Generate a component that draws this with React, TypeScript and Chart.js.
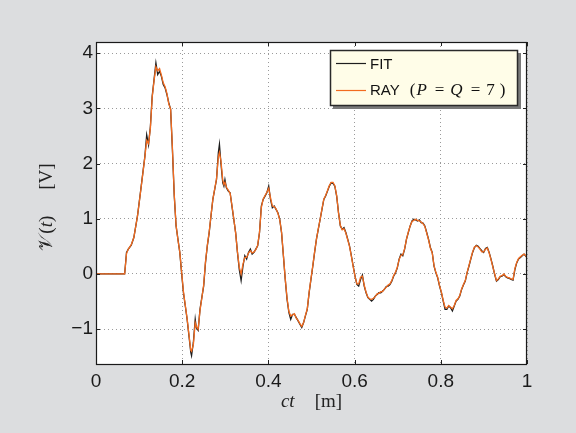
import React, { useEffect, useRef } from 'react';
import { Chart, registerables } from 'chart.js';

Chart.register(...registerables);

// Propagation distance ct [m]
const CT = [
  0, 0.0665, 0.0708, 0.075, 0.0818, 0.0878, 0.0963, 0.1049, 0.1134, 0.1176,
  0.1219, 0.1262, 0.1304, 0.1347, 0.139, 0.1432, 0.1475, 0.1517, 0.156, 0.1603,
  0.1645, 0.1688, 0.1731, 0.1773, 0.1816, 0.1858, 0.1901, 0.1944, 0.1986, 0.2029,
  0.2072, 0.2114, 0.2157, 0.2199, 0.2217, 0.2259, 0.2302, 0.2327, 0.237, 0.2413,
  0.2455, 0.2498, 0.254, 0.2583, 0.2626, 0.2668, 0.2711, 0.2754, 0.2796, 0.2839,
  0.2864, 0.2899, 0.2941, 0.2967, 0.2992, 0.3026, 0.3069, 0.3112, 0.3154, 0.3197,
  0.324, 0.3282, 0.3325, 0.3367, 0.341, 0.3453, 0.3495, 0.3538, 0.3581, 0.3623,
  0.3666, 0.3708, 0.3751, 0.3794, 0.3836, 0.3879, 0.3922, 0.3964, 0.4007, 0.4049,
  0.4092, 0.4135, 0.4177, 0.422, 0.4263, 0.4305, 0.4348, 0.439, 0.4433, 0.4476,
  0.4518, 0.4561, 0.4604, 0.4646, 0.4689, 0.4731, 0.4774, 0.4817, 0.4859, 0.4902,
  0.4945, 0.4987, 0.503, 0.5072, 0.5115, 0.5158, 0.52, 0.5243, 0.5286, 0.5328,
  0.5371, 0.5413, 0.5456, 0.5499, 0.5541, 0.5584, 0.5627, 0.5669, 0.5712, 0.5754,
  0.5797, 0.584, 0.5882, 0.5925, 0.5968, 0.601, 0.6053, 0.6095, 0.6138, 0.6181,
  0.6223, 0.6266, 0.6309, 0.6351, 0.6394, 0.6436, 0.6479, 0.6522, 0.6564, 0.6607,
  0.665, 0.6692, 0.6735, 0.6777, 0.682, 0.6863, 0.6905, 0.6948, 0.6991, 0.7033,
  0.7076, 0.7118, 0.7161, 0.7204, 0.7246, 0.7289, 0.7332, 0.7374, 0.7417, 0.746,
  0.7502, 0.7545, 0.7587, 0.763, 0.7673, 0.7715, 0.7758, 0.7801, 0.7843, 0.7886,
  0.7928, 0.7971, 0.8014, 0.8056, 0.8099, 0.8141, 0.8184, 0.8227, 0.8269, 0.8312,
  0.8355, 0.8397, 0.844, 0.8483, 0.8525, 0.8568, 0.861, 0.8653, 0.8696, 0.8738,
  0.8781, 0.8824, 0.8866, 0.8909, 0.8951, 0.8994, 0.9037, 0.9079, 0.9122, 0.9165,
  0.9207, 0.925, 0.9292, 0.9335, 0.9378, 0.942, 0.9463, 0.9506, 0.9548, 0.9591,
  0.9633, 0.9676, 0.9719, 0.9761, 0.9804, 0.9847, 0.9889, 0.9932, 0.9974, 1.0,
];

// Fitted voltage V(t) [V]
const FIT = [
  0, 0, 0.39, 0.45, 0.52, 0.66, 1.05, 1.59, 2.13, 2.52,
  2.34, 2.67, 3.22, 3.52, 3.82, 3.61, 3.67, 3.58, 3.43, 3.37,
  3.25, 3.1, 2.98, 2.25, 1.41, 0.87, 0.63, 0.39, 0.02, -0.34,
  -0.58, -0.82, -1.12, -1.42, -1.48, -1.24, -0.82, -0.97, -1.02, -0.64,
  -0.43, -0.22, 0.2, 0.51, 0.75, 1.05, 1.35, 1.53, 1.71, 2.2,
  2.35, 2.0, 1.65, 1.59, 1.71, 1.56, 1.5, 1.47, 1.23, 0.99,
  0.75, 0.39, 0.08, -0.12, 0.14, 0.33, 0.27, 0.39, 0.45, 0.36,
  0.39, 0.45, 0.51, 0.75, 1.23, 1.35, 1.41, 1.47, 1.59, 1.35,
  1.2, 1.23, 1.17, 1.11, 0.99, 0.75, 0.33, -0.09, -0.46, -0.7,
  -0.82, -0.73, -0.73, -0.79, -0.85, -0.91, -0.97, -0.88, -0.76, -0.64,
  -0.34, -0.1, 0.14, 0.39, 0.63, 0.81, 0.99, 1.17, 1.35, 1.41,
  1.5, 1.59, 1.65, 1.64, 1.59, 1.41, 1.11, 0.87, 0.81, 0.84,
  0.75, 0.63, 0.51, 0.33, 0.14, -0.04, -0.19, -0.22, -0.1, -0.02,
  -0.22, -0.34, -0.43, -0.46, -0.49, -0.46, -0.4, -0.37, -0.34, -0.34,
  -0.31, -0.28, -0.23, -0.22, -0.19, -0.13, -0.04, 0.02, 0.11, 0.27,
  0.36, 0.33, 0.45, 0.63, 0.75, 0.87, 0.96, 0.99, 0.98, 0.96,
  0.98, 0.93, 0.92, 0.87, 0.75, 0.63, 0.48, 0.39, 0.14, 0.02,
  -0.07, -0.22, -0.34, -0.49, -0.64, -0.64, -0.58, -0.61, -0.67, -0.58,
  -0.49, -0.46, -0.4, -0.28, -0.2, -0.13, 0.02, 0.14, 0.27, 0.39,
  0.48, 0.52, 0.5, 0.46, 0.42, 0.39, 0.46, 0.48, 0.39, 0.27,
  0.14, -0.01, -0.13, -0.1, -0.05, -0.04, -0.01, -0.05, -0.07, -0.08,
  -0.1, -0.11, 0.08, 0.2, 0.27, 0.3, 0.33, 0.36, 0.32, 0.3,
];

// Ray-model voltage, P = Q = 7
const RAY = [
  0, 0, 0.37, 0.45, 0.53, 0.66, 1.05, 1.58, 2.12, 2.42,
  2.36, 2.64, 3.2, 3.5, 3.75, 3.68, 3.72, 3.6, 3.46, 3.39,
  3.27, 3.08, 2.99, 2.28, 1.43, 0.88, 0.62, 0.4, 0.04, -0.32,
  -0.57, -0.81, -1.1, -1.38, -1.4, -1.28, -0.88, -0.95, -1.0, -0.66,
  -0.44, -0.2, 0.22, 0.52, 0.76, 1.06, 1.35, 1.54, 1.72, 2.12,
  2.2, 2.05, 1.7, 1.62, 1.66, 1.57, 1.52, 1.46, 1.24, 1.0,
  0.74, 0.4, 0.12, 0.0, 0.18, 0.3, 0.3, 0.38, 0.42, 0.38,
  0.4, 0.44, 0.52, 0.76, 1.2, 1.36, 1.42, 1.48, 1.55, 1.38,
  1.23, 1.22, 1.18, 1.1, 0.98, 0.76, 0.34, -0.08, -0.44, -0.68,
  -0.76, -0.74, -0.72, -0.8, -0.84, -0.9, -0.95, -0.88, -0.75, -0.63,
  -0.33, -0.09, 0.15, 0.4, 0.63, 0.82, 0.99, 1.18, 1.36, 1.42,
  1.51, 1.6, 1.66, 1.66, 1.6, 1.42, 1.1, 0.88, 0.8, 0.82,
  0.74, 0.62, 0.5, 0.32, 0.13, -0.05, -0.18, -0.18, -0.06, -0.04,
  -0.2, -0.33, -0.42, -0.45, -0.46, -0.44, -0.41, -0.36, -0.35, -0.32,
  -0.32, -0.27, -0.24, -0.2, -0.18, -0.12, -0.03, 0.03, 0.12, 0.26,
  0.34, 0.35, 0.46, 0.63, 0.76, 0.87, 0.95, 0.97, 0.99, 0.97,
  0.96, 0.94, 0.91, 0.86, 0.74, 0.62, 0.47, 0.38, 0.15, 0.03,
  -0.06, -0.21, -0.33, -0.48, -0.6, -0.62, -0.57, -0.6, -0.63, -0.57,
  -0.48, -0.45, -0.39, -0.27, -0.19, -0.12, 0.03, 0.15, 0.28, 0.4,
  0.49, 0.51, 0.49, 0.45, 0.4, 0.4, 0.45, 0.47, 0.38, 0.26,
  0.13, 0.0, -0.12, -0.09, -0.04, -0.03, 0.0, -0.04, -0.06, -0.07,
  -0.09, -0.1, 0.1, 0.21, 0.28, 0.31, 0.34, 0.36, 0.33, 0.29,
];

const X_TICKS = [0, 0.2, 0.4, 0.6, 0.8, 1];
const Y_TICKS = [-1, 0, 1, 2, 3, 4];
const X_RANGE = [0, 1];
const Y_RANGE = [-1.63, 4.2];

const FIT_COLOR = '#1e1e1e';
const RAY_COLOR = '#f26b1f';
const SANS = '"Liberation Sans", Arial, sans-serif';
const SERIF = '"Liberation Serif", "DejaVu Serif", serif';

// a run of text in one font, with an optional gap (px) before it
type Seg = { t: string; f: string; g?: number };

function segWidth(ctx: CanvasRenderingContext2D, segs: Seg[]) {
  let w = 0;
  for (const s of segs) {
    ctx.font = s.f;
    w += (s.g || 0) + ctx.measureText(s.t).width;
  }
  return w;
}

function drawSegs(ctx: CanvasRenderingContext2D, segs: Seg[], x: number, y: number, center: boolean) {
  let cx = center ? x - segWidth(ctx, segs) / 2 : x;
  ctx.textAlign = 'left';
  ctx.textBaseline = 'alphabetic';
  for (const s of segs) {
    ctx.font = s.f;
    cx += s.g || 0;
    ctx.fillText(s.t, cx, y);
    cx += ctx.measureText(s.t).width;
  }
}

const framePlugin = {
  id: 'matlabFrame',
  beforeDraw(chart: any) {
    const { ctx, chartArea: a } = chart;
    ctx.save();
    ctx.fillStyle = '#ffffff';
    ctx.fillRect(a.left, a.top, a.right - a.left, a.bottom - a.top);
    ctx.restore();
  },
  afterDraw(chart: any) {
    const { ctx, chartArea: a, scales } = chart;
    const xs = scales.x;
    const ys = scales.y;
    ctx.save();

    // inward tick marks on all four sides
    ctx.strokeStyle = '#222';
    ctx.lineWidth = 1;
    ctx.beginPath();
    for (const v of X_TICKS) {
      const px = Math.round(xs.getPixelForValue(v)) + 0.5;
      ctx.moveTo(px, a.bottom);
      ctx.lineTo(px, a.bottom - 4);
      ctx.moveTo(px, a.top);
      ctx.lineTo(px, a.top + 4);
    }
    for (const v of Y_TICKS) {
      const py = Math.round(ys.getPixelForValue(v)) + 0.5;
      ctx.moveTo(a.left, py);
      ctx.lineTo(a.left + 4, py);
      ctx.moveTo(a.right, py);
      ctx.lineTo(a.right - 4, py);
    }
    ctx.stroke();

    // axes box
    ctx.strokeStyle = '#1a1a1a';
    ctx.lineWidth = 1.2;
    ctx.strokeRect(Math.round(a.left) + 0.5, Math.round(a.top) + 0.5,
      Math.round(a.right - a.left) - 1, Math.round(a.bottom - a.top));

    // legend
    const lx = 330, ly = 50, lw = 188, lh = 56;
    ctx.fillStyle = '#7a7a7a';
    ctx.fillRect(lx + 3, ly + 3, lw, lh);
    ctx.fillStyle = '#fffde8';
    ctx.fillRect(lx, ly, lw, lh);
    ctx.strokeStyle = '#2a2a2a';
    ctx.lineWidth = 1.5;
    ctx.strokeRect(lx + 0.5, ly + 0.5, lw - 1, lh - 1);

    const ds = chart.data.datasets;
    const rows = [63.5, 90.5];
    ds.forEach((d: any, i: number) => {
      ctx.strokeStyle = d.borderColor;
      ctx.lineWidth = 1.2;
      ctx.beginPath();
      ctx.moveTo(336, rows[i]);
      ctx.lineTo(366, rows[i]);
      ctx.stroke();
    });
    ctx.fillStyle = '#111';
    const mf = `17px ${SERIF}`;
    const mi = `italic 17px ${SERIF}`;
    drawSegs(ctx, [{ t: ds[0].label, f: `15px ${SANS}` }], 370, 69, false);
    drawSegs(ctx, [
      { t: ds[1].label, f: `15px ${SANS}` },
      { t: '(', f: mf, g: 10 },
      { t: 'P', f: mi, g: 1 },
      { t: '=', f: mf, g: 8 },
      { t: 'Q', f: mi, g: 6 },
      { t: '=', f: mf, g: 8 },
      { t: '7', f: mf, g: 6 },
      { t: ')', f: mf, g: 5 },
    ], 370, 95, false);

    // axis titles
    ctx.fillStyle = '#222';
    const midX = (a.left + a.right) / 2;
    drawSegs(ctx, [
      { t: 'ct', f: `italic 19px ${SERIF}` },
      { t: '[m]', f: `19px ${SERIF}`, g: 20 },
    ], midX, 407, true);

    ctx.translate(52, 207);
    ctx.rotate(-Math.PI / 2);
    drawSegs(ctx, [
      { t: '𝒱', f: `19px ${SERIF}` },
      { t: '(', f: `19px ${SERIF}`, g: 1 },
      { t: 't', f: `italic 19px ${SERIF}` },
      { t: ')', f: `19px ${SERIF}` },
      { t: '[V]', f: `19px ${SERIF}`, g: 26 },
    ], 0, 0, true);
    ctx.restore();
  },
};

const fmt = (v: number) => {
  const s = String(Math.round(v * 10) / 10);
  return s.replace('-', '\u2212');
};

export default function App() {
  const canvasRef = useRef<HTMLCanvasElement>(null);

  useEffect(() => {
    document.body.style.margin = '0';
    const canvas = canvasRef.current;
    if (!canvas) return;
    const chart = new Chart(canvas, {
      type: 'line',
      data: {
        datasets: [
          {
            label: 'FIT',
            data: CT.map((c, i) => ({ x: c, y: FIT[i] })),
            borderColor: FIT_COLOR,
            borderWidth: 1.3,
            pointRadius: 0,
            tension: 0,
            order: 2,
          },
          {
            label: 'RAY',
            data: CT.map((c, i) => ({ x: c, y: RAY[i] })),
            borderColor: RAY_COLOR,
            borderWidth: 1.3,
            pointRadius: 0,
            tension: 0,
            order: 1,
          },
        ],
      },
      options: {
        animation: false,
        responsive: false,
        events: [],
        layout: { padding: { left: 0, top: 42, right: 49, bottom: 0 } },
        plugins: { legend: { display: false }, tooltip: { enabled: false } },
        scales: {
          x: {
            type: 'linear',
            min: X_RANGE[0],
            max: X_RANGE[1],
            afterFit: (s: any) => { s.height = 69; },
            afterBuildTicks: (s: any) => { s.ticks = X_TICKS.map((v) => ({ value: v })); },
            ticks: {
              callback: (v: any) => fmt(Number(v)),
              font: { family: SANS, size: 19 },
              color: '#1a1a1a',
              padding: 6,
              maxRotation: 0,
            },
            grid: { color: '#9a9a9a', lineWidth: 1, drawTicks: false },
            border: { display: false, dash: [1, 3] },
          },
          y: {
            type: 'linear',
            min: Y_RANGE[0],
            max: Y_RANGE[1],
            afterFit: (s: any) => { s.width = 96; },
            afterBuildTicks: (s: any) => { s.ticks = Y_TICKS.map((v) => ({ value: v })); },
            ticks: {
              callback: (v: any) => fmt(Number(v)),
              font: { family: SANS, size: 19 },
              color: '#1a1a1a',
              padding: 3,
            },
            grid: { color: '#9a9a9a', lineWidth: 1, drawTicks: false },
            border: { display: false, dash: [1, 3] },
          },
        },
      },
      plugins: [framePlugin],
    } as any);
    return () => chart.destroy();
  }, []);

  return (
    <div style={{ position: 'fixed', left: 0, top: 0, width: 576, height: 433, background: '#dcdddf' }}>
      <canvas ref={canvasRef} width={576} height={433} style={{ display: 'block' }} />
    </div>
  );
}
